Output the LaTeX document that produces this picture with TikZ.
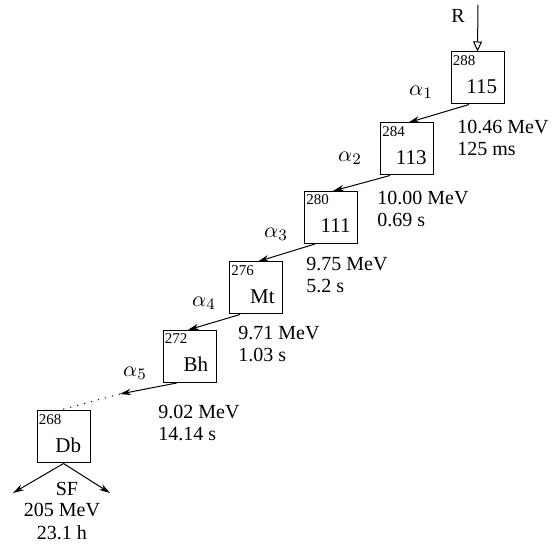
\documentclass[tikz,border=0pt]{standalone}
\usepackage{fontspec}
\setmainfont{Liberation Serif}
\usetikzlibrary{positioning,arrows.meta}
\tikzset{
  nucl/.style={draw, line width=0.5pt, minimum width=26.5pt, minimum height=26pt, inner sep=0pt},
  mass/.style={font=\fontsize{7.5}{8}\selectfont, inner sep=1pt, anchor=north west},
  elem/.style={font=\fontsize{10.5}{12}\selectfont, inner sep=0pt, anchor=base east},
  info/.style={font=\fontsize{10}{11}\selectfont, align=left, inner sep=0pt, anchor=north west},
  alph/.style={font=\fontsize{11}{12}\selectfont},
  decay/.style={-{Stealth[length=5.5pt,width=3.2pt]}, line width=0.5pt},
}
\begin{document}
\begin{tikzpicture}[x=0.5pt,y=-0.5pt]
	\useasboundingbox (0,0) rectangle (553,550);

	% nuclei
	\node(E115)[nucl] at (477.5,78){};
	\node(E113)[nucl] at (407,149){};
	\node(E111)[nucl] at (331,217.5){};
	\node(Mt)[nucl] at (256,288){};
	\node(Bh)[nucl] at (189.5,356.5){};
	\node(Db)[nucl] at (63.5,437){};

	\node(A288)[mass, yshift=-0.8pt] at (E115.north west){288};
	\node(A284)[mass, yshift=-0.8pt] at (E113.north west){284};
	\node(A280)[mass, yshift=-0.8pt] at (E111.north west){280};
	\node(A276)[mass, yshift=-0.8pt] at (Mt.north west){276};
	\node(A272)[mass, yshift=-0.8pt] at (Bh.north west){272};
	\node(A268)[mass, yshift=-0.8pt] at (Db.north west){268};

	\node(Z115)[elem] at ([xshift=-3.5pt, yshift=5.5pt]E115.south east){115};
	\node(Z113)[elem] at ([xshift=-3.5pt, yshift=5.5pt]E113.south east){113};
	\node(Z111)[elem] at ([xshift=-3.5pt, yshift=5.5pt]E111.south east){111};
	\node(ZMt)[elem] at ([xshift=-4pt, yshift=5.5pt]Mt.south east){Mt};
	\node(ZBh)[elem] at ([xshift=-4pt, yshift=5.5pt]Bh.south east){Bh};
	\node(ZDb)[elem] at ([xshift=-4.5pt, yshift=5.5pt]Db.south east){Db};

	% beam
	\node(R) at (458,16){R};
	\coordinate(Rtop) at (478,5);
	\draw[line width=0.5pt, -{Triangle[open,length=5pt,width=4.5pt]}] (Rtop) -- (E115.north);

	% alpha chain
	\draw[decay] ([xshift=-4.2pt]E115.south) -- ([xshift=0.8pt]E113.north);
	\draw[decay] ([xshift=-8.5pt]E113.south) -- ([xshift=1pt]E111.north);
	\draw[decay] ([xshift=-8pt]E111.south) -- ([xshift=1pt]Mt.north);
	\draw[decay] ([xshift=-8pt]Mt.south) -- ([xshift=-0.8pt]Bh.north);
	\coordinate(Gap) at (120,394);
	\draw[decay] ([xshift=-6.4pt]Bh.south) -- (Gap);
	\draw[line width=0.5pt, dash pattern=on 0.6pt off 3pt] (Gap) -- ([xshift=-2.75pt]Db.north);

	\node(a1)[alph] at (421,92){$\alpha_1$};
	\node(a2)[alph] at (350,158){$\alpha_2$};
	\node(a3)[alph] at (276,234){$\alpha_3$};
	\node(a4)[alph] at (204,303){$\alpha_4$};
	\node(a5)[alph] at (135,373){$\alpha_5$};

	\node(I115)[info] at (457,120){10.46 MeV\\125 ms};
	\node(I113)[info] at (377,191){10.00 MeV\\0.69 s};
	\node(I111)[info] at (306,257){9.75 MeV\\5.2 s};
	\node(IMt)[info] at (238,326){9.71 MeV\\1.03 s};
	\node(IBh)[info] at (158,405){9.02 MeV\\14.14 s};

	% fission
	\coordinate(SFl) at (13,493);
	\coordinate(SFr) at (110,493);
	\draw[decay] (Db.south) -- (SFl);
	\draw[decay] (Db.south) -- (SFr);
	\node(SF)[font=\fontsize{10}{11}\selectfont] at (67,489){SF};
	\node(ISF)[font=\fontsize{10}{11.5}\selectfont, align=center, below=0pt of SF, xshift=-2.5pt, inner sep=0pt]{205 MeV\\23.1 h};
\end{tikzpicture}
\end{document}
